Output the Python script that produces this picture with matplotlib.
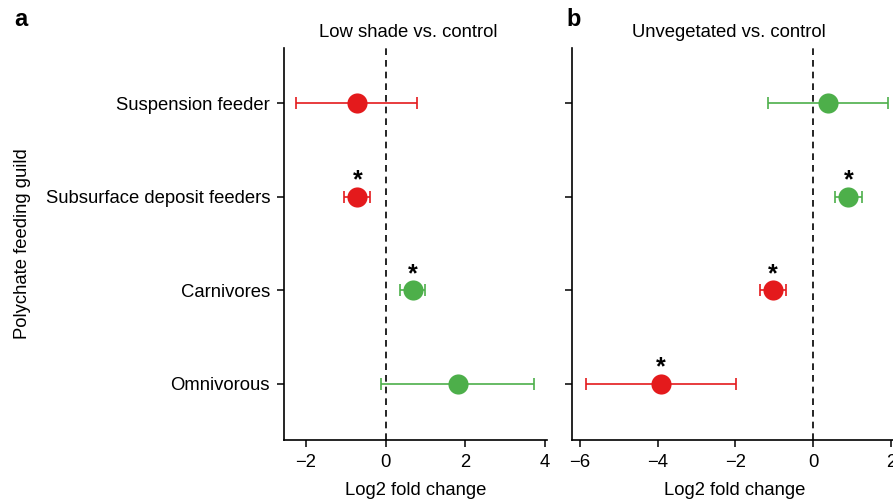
import matplotlib
matplotlib.use("Agg")
import matplotlib.pyplot as plt

plt.rcParams["font.family"] = ["Liberation Sans", "DejaVu Sans"]

# Feeding guilds, bottom to top on the y axis
guilds = ["Omnivorous", "Carnivores", "Subsurface deposit feeders", "Suspension feeder"]

# Low shade vs. control
shade_fc = [1.82, 0.68, -0.71, -0.73]
shade_lo = [-0.11, 0.36, -1.04, -2.26]
shade_hi = [3.73, 1.00, -0.38, 0.78]
shade_sig = [False, True, True, False]

# Unvegetated vs. control
unveg_fc = [-3.91, -1.03, 0.90, 0.37]
unveg_lo = [-5.85, -1.36, 0.56, -1.16]
unveg_hi = [-1.98, -0.70, 1.25, 1.91]
unveg_sig = [True, True, True, False]

RED = "#E41A1C"
GREEN = "#4DAF4A"
FS = 13.3

W, H = 893, 500
fig = plt.figure(figsize=(W / 100, H / 100), dpi=100)


def px_axes(left, top, right, bottom):
    return fig.add_axes([left / W, 1 - bottom / H, (right - left) / W, (bottom - top) / H])


def draw_panel(ax, fc, lo, hi, sig, xlim, xticks, title, title_x):
    ypos = list(range(len(guilds)))
    ax.axvline(0, color="black", lw=1.2, ls=(0, (4, 3)), zorder=1)
    for y, v, l, h, s in zip(ypos, fc, lo, hi, sig):
        col = GREEN if v > 0 else RED
        ax.errorbar(v, y, xerr=[[v - l], [h - v]], fmt="none", ecolor=col,
                    elinewidth=1.2, capsize=4, capthick=1.2, zorder=2)
        ax.plot(v, y, "o", color=col, ms=14.5, mec="none", zorder=3)
        if s:
            ax.annotate("*", (v, y), xytext=(0, 3.2), textcoords="offset points",
                        ha="center", va="bottom", fontsize=18, fontweight="bold",
                        color="black")
    ax.set_xlim(*xlim)
    ax.set_ylim(-0.6, 3.59)
    ax.set_xticks(xticks)
    ax.set_xticklabels([str(t).replace("-", "\u2212") for t in xticks])
    ax.set_yticks(ypos)
    for side in ("top", "right"):
        ax.spines[side].set_visible(False)
    for side in ("left", "bottom"):
        ax.spines[side].set_linewidth(1.2)
    ax.tick_params(length=5, width=1.1, labelsize=FS, pad=5)
    ax.set_xlabel("Log2 fold change", fontsize=FS, labelpad=8)
    ax.set_title(title, fontsize=FS, pad=8, x=title_x)


ax_a = px_axes(284, 48, 547, 440)
draw_panel(ax_a, shade_fc, shade_lo, shade_hi, shade_sig, (-2.55, 4.05),
           [-2, 0, 2, 4], "Low shade vs. control", 0.5 - 7 / 263)
ax_a.set_yticklabels(guilds)
ax_a.set_ylabel("Polychate feeding guild", fontsize=FS, labelpad=10.5)

ax_b = px_axes(572, 48, 897, 440)
draw_panel(ax_b, unveg_fc, unveg_lo, unveg_hi, unveg_sig, (-6.2, 2.15),
           [-6, -4, -2, 0, 2], "Unvegetated vs. control", 0.5 - 6 / 325)
ax_b.set_yticklabels([])

fig.text(14 / W, 1 - 20 / H, "a", fontsize=17, fontweight="bold", va="center")
fig.text(566 / W, 1 - 20 / H, "b", fontsize=17, fontweight="bold", va="center")

fig.savefig("out.png", dpi=100)
